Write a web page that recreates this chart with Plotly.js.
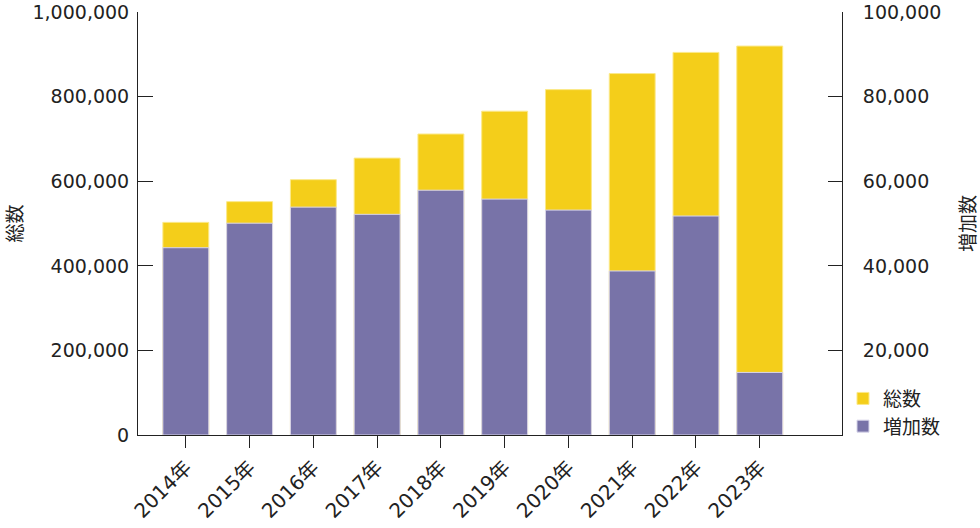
<!DOCTYPE html>
<html>
<head>
<meta charset="utf-8">
<script src="https://cdn.plot.ly/plotly-3.0.1.min.js"></script>
<style>html,body{margin:0;padding:0;background:#fff;}#chart{width:980px;height:528px;}</style>
</head>
<body>
<div id="chart"></div>
<script>
const years = ["2014年","2015年","2016年","2017年","2018年","2019年","2020年","2021年","2022年","2023年"];
const totalCount = [503000, 552000, 604000, 655000, 712000, 766000, 817000, 855000, 905000, 920000];
const increaseCount = [44300, 50100, 53900, 52200, 57900, 55800, 53200, 38800, 51800, 14800];
const seriesNames = ["総数", "増加数"];
const leftTicks = [0, 200000, 400000, 600000, 800000, 1000000];
const rightTicks = [0, 20000, 40000, 60000, 80000, 100000];
const rightTickText = ['', '20,000', '40,000', '60,000', '80,000', '100,000'];

const FONT = '"DejaVu Sans", "Noto Sans CJK JP", sans-serif';
const CJK = '"Noto Sans CJK JP", "DejaVu Sans", sans-serif';
const ink = '#222';
const yellow = '#F4CE1A';
const purple = '#7873A8';

const traces = [
  {
    type: 'bar', x: years, y: totalCount, name: seriesNames[0],
    yaxis: 'y', width: 0.72,
    marker: {color: yellow, line: {color: '#fbe98a', width: 1}},
    hoverinfo: 'x+y'
  },
  {
    type: 'bar', x: years, y: increaseCount, name: seriesNames[1],
    yaxis: 'y2', width: 0.72,
    marker: {color: purple, line: {color: '#d9d6ea', width: 1}},
    hoverinfo: 'x+y'
  }
];

const layout = {
  width: 980, height: 528,
  margin: {l: 138, r: 138, t: 12, b: 92.5, pad: 0},
  paper_bgcolor: '#fff', plot_bgcolor: '#fff',
  font: {family: FONT, size: 19, color: ink},
  barmode: 'overlay',
  showlegend: true,
  legend: {
    x: 1.0014, xanchor: 'left', y: -0.025, yanchor: 'bottom',
    font: {family: CJK, size: 19, color: ink},
    itemwidth: 30, tracegroupgap: 0, bgcolor: 'rgba(0,0,0,0)',
    traceorder: 'normal'
  },
  xaxis: {
    type: 'category', range: [-0.75, 10.29],
    showline: true, linecolor: ink, linewidth: 1,
    ticks: 'outside', ticklen: 12, tickcolor: ink, tickwidth: 1,
    tickangle: -45, showgrid: false, zeroline: false,
    tickfont: {family: FONT, size: 20, color: ink},
    fixedrange: true
  },
  yaxis: {
    range: [0, 1000600], tickvals: leftTicks,
    tickformat: ',d',
    showline: true, linecolor: ink, linewidth: 1,
    ticks: 'inside', ticklen: 15, tickcolor: ink, tickwidth: 1,
    showgrid: false, zeroline: false,
    tickfont: {family: FONT, size: 19, color: ink},
    ticklabelstandoff: 4,
    title: {text: seriesNames[0], font: {family: CJK, size: 19, color: ink}, standoff: 10},
    fixedrange: true
  },
  yaxis2: {
    overlaying: 'y', side: 'right',
    range: [0, 100060], tickvals: rightTicks, ticktext: rightTickText,
    showline: true, linecolor: ink, linewidth: 1,
    ticks: 'inside', ticklen: 14, tickcolor: ink, tickwidth: 1,
    showgrid: false, zeroline: false,
    tickfont: {family: FONT, size: 19, color: ink},
    ticklabelstandoff: 16,
    title: {text: seriesNames[1], font: {family: CJK, size: 19, color: ink}, standoff: 26},
    fixedrange: true
  }
};

Plotly.newPlot('chart', traces, layout, {displayModeBar: false, staticPlot: true});
</script>
</body>
</html>
